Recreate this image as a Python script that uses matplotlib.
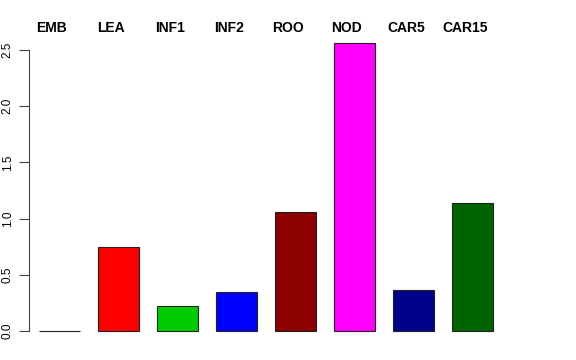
import matplotlib
matplotlib.use("Agg")
import matplotlib.pyplot as plt

tissues = ["EMB", "LEA", "INF1", "INF2", "ROO", "NOD", "CAR5", "CAR15"]
values = [0.0, 0.745, 0.222, 0.347, 1.058, 2.563, 0.365, 1.138]
colors = ["#FFFFFF", "#FF0000", "#00CD00", "#0000FF", "#8B0000", "#FF00FF", "#00008B", "#006400"]
yticks = [0.0, 0.5, 1.0, 1.5, 2.0, 2.5]

plt.rcParams['font.family'] = ['Liberation Sans', 'DejaVu Sans']
W, H = 576, 360
fig = plt.figure(figsize=(W / 100, H / 100), dpi=100)

# axes in pixel geometry
left_px, right_px = 29, 504
top_px, bot_px = 40, 340
ax = fig.add_axes([left_px / W, 1 - bot_px / H, (right_px - left_px) / W, (bot_px - top_px) / H])

unit = 59.0
x0 = -(59.5 - left_px) / unit
x1 = x0 + (right_px - left_px) / unit
yscale = 112.4
y0 = -(bot_px - 331) / yscale
y1 = (331 - top_px) / yscale
ax.set_xlim(x0, x1)
ax.set_ylim(y0, y1)

xs = list(range(len(tissues)))
ax.bar(xs, values, width=0.7, color=colors, edgecolor="#222222", linewidth=0.8)

for x, t in zip(xs, tissues):
    ax.text(x - 0.13, 2.695, t, ha="center", va="center", fontsize=10,
            fontweight="bold", color="black", clip_on=False)

for s in ["top", "right", "bottom"]:
    ax.spines[s].set_visible(False)
ax.spines["left"].set_bounds(0, 2.5)
ax.spines["left"].set_color("#444444")
ax.set_xticks([])
ax.set_yticks(yticks)
ax.set_yticklabels([f"{v:.1f}" for v in yticks], rotation=90, va="center", fontsize=8.5)
ax.tick_params(axis="y", length=7, color="#444444", pad=4)

fig.savefig("out.png", dpi=100)
